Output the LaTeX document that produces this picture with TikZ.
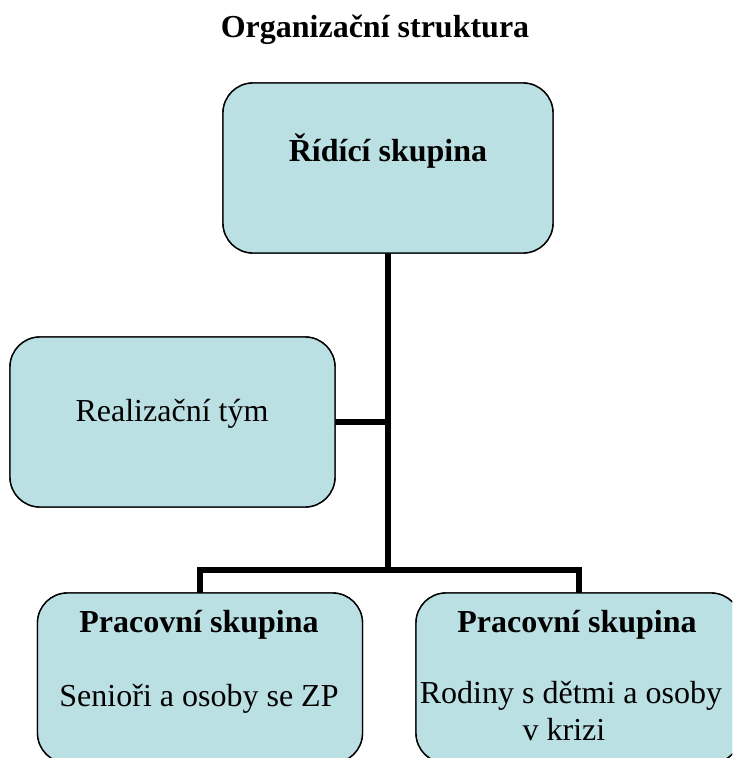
\documentclass[tikz,border=0pt]{standalone}
\usepackage{fontspec}
\setmainfont{Liberation Serif}
\definecolor{boxfill}{HTML}{BBE0E3}
\tikzset{
  orgbox/.style={draw=black, line width=1.4pt, fill=boxfill, rounded corners=30pt,
    minimum width=#1, minimum height=170pt, inner sep=0pt, outer sep=0pt},
  orgbox/.default=325pt,
  conn/.style={line width=6pt, line join=miter},
  bigtxt/.style={font=\fontsize{32}{38}\selectfont, anchor=base, inner sep=0pt},
  boldtxt/.style={font=\fontsize{32}{38}\selectfont\bfseries, anchor=base, inner sep=0pt}
}
\begin{document}
\begin{tikzpicture}[x=1pt,y=-1pt]
\useasboundingbox (0,0) rectangle (732,758);
\clip (0,0) rectangle (732,758);
\fill[white] (0,0) rectangle (732,758);
% title
\node[boldtxt] (title) at (375,37) {Organizační struktura};
% boxes
\node[orgbox=330pt] (top) at (388,168) {};
\node[orgbox] (real) at (172.5,422) {};
\node[orgbox] (pl) at (200,678) {};
\node[orgbox] (pr) at (578.5,678) {};
% connectors
\coordinate (j) at (388,569.5);
\draw[conn] (top.south) -- (j);
\draw[conn] (real.east) -- (real.east -| top.south);
\draw[conn] (pl.north) |- (j) -| (pr.north);
% redraw boxes above connectors
\node[orgbox=330pt] at (top) {};
\node[orgbox] at (real) {};
\node[orgbox] at (pl) {};
\node[orgbox] at (pr) {};
% texts
\node[boldtxt] (toptxt) at (388,161) {Řídící skupina};
\node[bigtxt] (realtxt) at (172,421) {Realizační tým};
\node[boldtxt] (pltitle) at (199,632) {Pracovní skupina};
\node[bigtxt] (pltxt) at (199,706) {Senioři a osoby se ZP};
\node[boldtxt] (prtitle) at (577,632) {Pracovní skupina};
\node[bigtxt] (prtxt1) at (571,703) {Rodiny s dětmi a osoby};
\node[bigtxt] (prtxt2) at (564,740) {v krizi};
\end{tikzpicture}
\end{document}
